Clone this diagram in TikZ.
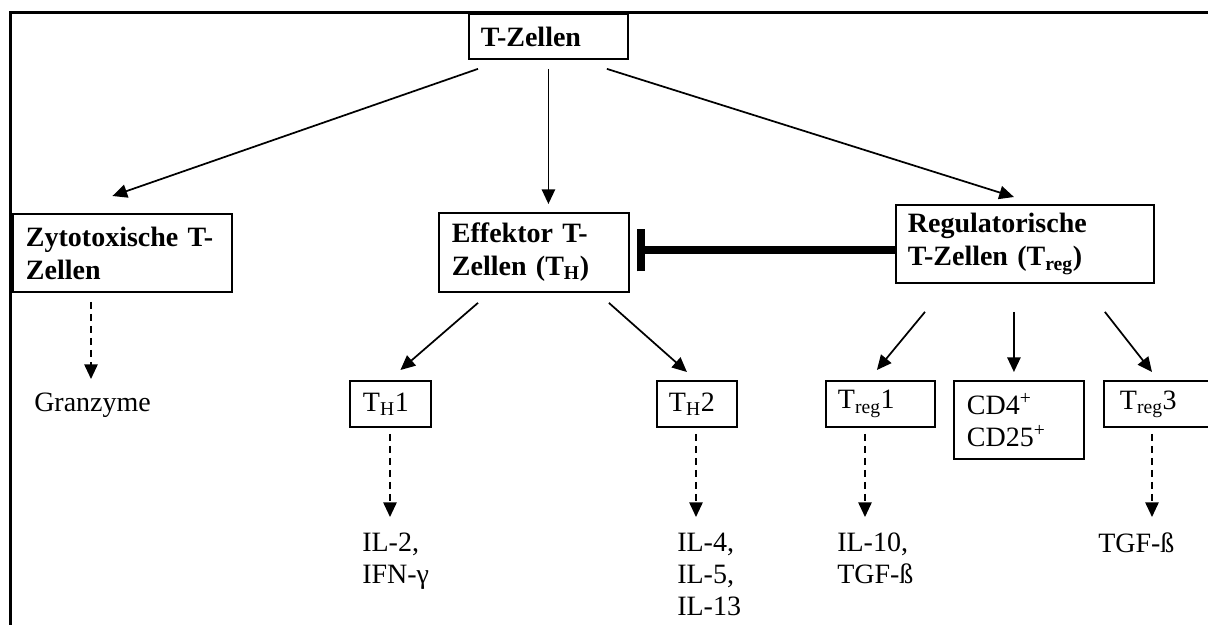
\documentclass[tikz,border=0pt]{standalone}
\usepackage{fontspec}
\setmainfont{Liberation Serif}
\usetikzlibrary{arrows.meta,calc}
\begin{document}
\begin{tikzpicture}[x=0.75pt,y=-0.75pt,
  bbox/.style={draw,line width=1.4pt,anchor=north west,align=left,inner ysep=0pt,
    font=\fontsize{21}{24.75}\selectfont\bfseries},
  sbox/.style={draw,line width=1.4pt,anchor=north west,align=left,inner ysep=0pt,
    minimum height=34.5pt,font=\fontsize{21}{24}\selectfont},
  lbl/.style={anchor=north west,inner sep=0pt,align=left,font=\fontsize{21}{24}\selectfont},
  arr/.style={line width=1.3pt,-{Triangle[length=11pt,width=10pt]}},
  darr/.style={arr,dash pattern=on 5.5pt off 3.5pt},
  inhib/.style={line width=6pt,{Bar[width=32pt]}-}
]
\fill[white] (0,0) rectangle (1208,625);
\useasboundingbox (0,0) rectangle (1208,625);
\clip (0,0) rectangle (1208,625);
% outer frame (only top and left sides fall inside the picture)
\draw[line width=1.6pt] (10.5,12.5) rectangle (1400,800);

% boxes
\node[bbox, minimum width=119.25pt, minimum height=33.75pt, text width=101.25pt, inner xsep=9pt] (tz) at (468,13) {T-Zellen};
\node[bbox, minimum width=164.25pt, minimum height=58.5pt, text width=144.75pt, inner xsep=9.75pt] (zy) at (12,213) {Zytotoxische T-\\Zellen};
\node[bbox, minimum width=142.5pt, minimum height=59.25pt, text width=123pt, inner xsep=9.75pt] (ef) at (438,212) {Effektor T-\\Zellen (T\textsubscript{H})};
\node[bbox, minimum width=193.5pt, minimum height=58.5pt, text width=175.5pt, inner xsep=9pt] (rg) at (895,204) {Regulatorische\\T-Zellen (T\textsubscript{reg})};

\node[sbox, minimum width=60.75pt, text width=41.25pt, inner xsep=9.75pt] (th1) at (349,380) {T\textsubscript{H}1};
\node[sbox, minimum width=60pt, text width=42pt, inner xsep=9pt] (th2) at (656,380) {T\textsubscript{H}2};
\node[sbox, minimum width=81.75pt, text width=63.75pt, inner xsep=9pt] (tr1) at (825,380) {T\textsubscript{reg}1};
\node[sbox, minimum width=97.5pt, minimum height=58.5pt, text width=78pt, inner xsep=9.75pt] (cd) at (953,380) {CD4\textsuperscript{+}\\CD25\textsuperscript{+}};
\node[sbox, minimum width=97.5pt, text width=73.5pt, inner xsep=12pt] (tr3) at (1103,380) {T\textsubscript{reg}3};

% plain labels
\node[lbl] (gz) at (34,393) {Granzyme};
\node[lbl] (il2) at (362,533) {IL-2,\\IFN-γ};
\node[lbl] (il4) at (677,533) {IL-4,\\IL-5,\\IL-13};
\node[lbl] (il10) at (837,533) {IL-10,\\TGF-ß};
\node[lbl] (tgf) at (1098,533) {TGF-ß};

% arrows from T-Zellen
\draw[arr] ($(tz.south west)+(10,9)$) -- ($(zy.north)+(-10,-17)$);
\draw[arr] ($(tz.south)+(0,9)$) -- ($(tz.south |- ef.north)+(0,-8)$);
\draw[arr] ($(tz.south east)+(-22,9)$) -- ($(rg.north)+(-11,-7)$);

% inhibition
\coordinate (ib) at ($(ef.east)+(7,-2.5)$);
\draw[inhib] (ib) -- (ib -| rg.west);

% children of Effektor
\draw[arr] ($(ef.south west)+(40,10)$) -- ($(th1.north)+(10,-10)$);
\draw[arr] ($(ef.south east)+(-21,10)$) -- ($(th2.north)+(-10,-8)$);

% children of Regulatorische
\draw[arr] ($(rg.south west)+(30,28)$) -- ($(tr1.north)+(-3.5,-10)$);
\draw[arr] ($(rg.south)+(-11,28)$) -- ($(cd.north)+(-5,-8)$);
\draw[arr] ($(rg.south east)+(-50,28)$) -- ($(tr3.north west)+(49,-8)$);

% dashed products
\coordinate (dz) at ($(zy.south west)+(79,9)$);
\draw[darr, shorten >=10.5pt] (dz) -- (dz |- gz.north);
\coordinate (d1) at ($(th1.south west)+(41,6)$);
\draw[darr, shorten >=12pt] (d1) -- (d1 |- il2.north);
\coordinate (d2) at ($(th2.south west)+(40,6)$);
\draw[darr, shorten >=12pt] (d2) -- (d2 |- il4.north);
\coordinate (d3) at ($(tr1.south west)+(40,6)$);
\draw[darr, shorten >=12pt] (d3) -- (d3 |- il10.north);
\coordinate (d5) at ($(tr3.south west)+(49,6)$);
\draw[darr, shorten >=12pt] (d5) -- (d5 |- tgf.north);
\end{tikzpicture}
\end{document}
